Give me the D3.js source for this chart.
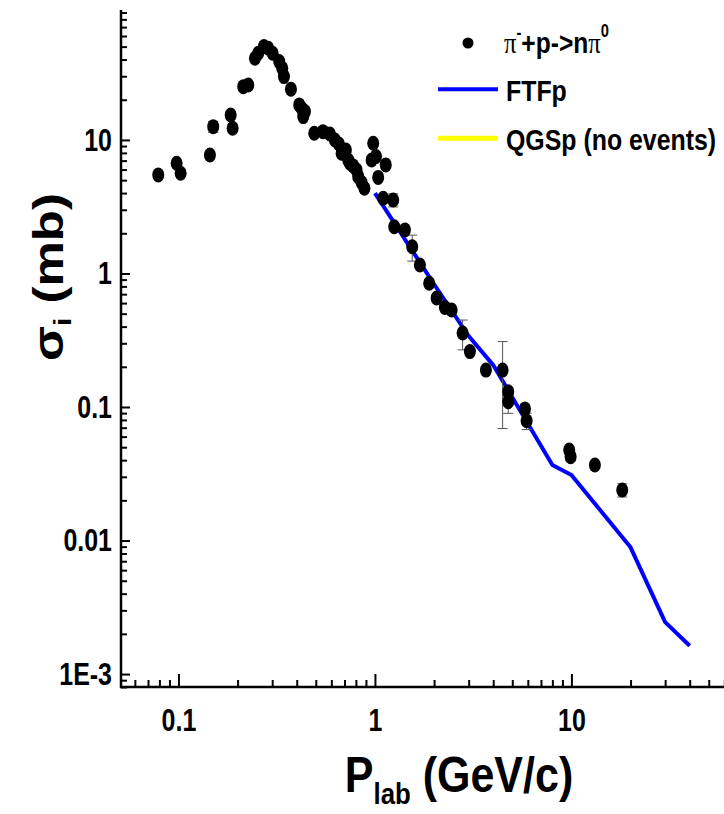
<!DOCTYPE html>
<html><head><meta charset="utf-8">
<script src="https://cdn.jsdelivr.net/npm/d3@7"></script>
<style>body{margin:0;background:#fff}svg{display:block}</style>
</head><body>
<svg id="c" width="724" height="814"></svg>
<script>
// ---- data ----
const pLab = [0.0789,0.0979,0.1026,0.1446,0.1503,0.1844,0.1887,0.2137,0.2266,0.2451,
  0.2547,0.2723,0.2864,0.3016,0.3258,0.3375,0.3443,0.3737,0.4119,0.4236,
  0.4404,0.4317,0.4911,0.5437,0.5902,0.6258,0.6558,0.6768,0.7116,0.7311,
  0.7459,0.7752,0.8069,0.8222,0.8557,0.8843,0.98,0.9621,1.012,1.039,
  1.135,1.102,1.239,1.254,1.421,1.548,1.694,1.889,2.061,2.271,
  2.457,2.794,3.044,3.672,4.466,4.769,4.769,5.8,5.916,9.745,
  9.908,13.17,18.14];
const sigma = [5.47,6.69,5.63,7.72,12.58,15.39,12.24,25.07,25.82,40.9,
  44.6,50.0,48.6,44.6,38.6,34.4,29.8,24.0,18.29,17.28,
  16.3,14.95,11.22,11.54,11.09,10.0,9.33,7.95,8.41,7.08,
  6.69,6.39,5.96,5.31,4.80,4.35,9.45,7.08,7.5,5.24,
  6.5,3.66,3.55,2.24,2.12,1.587,1.158,0.845,0.655,0.556,
  0.533,0.358,0.26,0.189,0.189,0.130,0.1096,0.0968,0.0788,0.0476,
  0.0424,0.0368,0.0239];
const sigmaErr = [0.3,0.35,0.3,0.5,1.2,1.0,0.8,1.2,1.2,2,
  2,2,2,2,2,1.5,1.5,1,0.8,0.8,
  0.8,0.7,0.5,0.5,0.5,0.5,0.5,0.4,0.4,0.4,
  0.3,0.3,0.3,0.3,0.25,0.2,0.5,0.4,0.4,0.3,
  0.3,0.2,0.4,0.12,0.12,0.35,0.06,0.05,0.04,0.03,
  0.03,0.09,0.015,0.01,0.12,0.01,0.02,0.005,0.011,0.003,
  0.003,0.002,0.0027];
const ftfpP = [1,2,3,4,8,10,20,30,40];
const ftfpSigma = [4.0,0.83,0.34,0.206,0.0368,0.031,0.0089,0.00245,0.00163];
const xMajorTicks = [0.1,1,10];
const xTickLabels = ["0.1","1","10"];
const yMajorTicks = [10,1,0.1,0.01,0.001];
const yTickLabels = ["10","1","0.1","0.01","1E-3"];
const legendNames = ["FTFp","QGSp (no events)"];
const legendColors = ["#0000ff","#ffff00"];

// ---- layout ----
const svg = d3.select("#c");
const FONT = "'Liberation Sans', Arial, sans-serif";
const SQ = 0.78;
const x = d3.scaleLog().domain([0.051, 61]).range([121, 725.7]);
const y = d3.scaleLog().domain([8e-4, 94]).range([687, 10]);

function minors(scale){
  const [a,b] = scale.domain(); const out=[];
  for(let n=-4;n<=2;n++) for(let k=2;k<=9;k++){const v=k*Math.pow(10,n); if(v>=a&&v<=b) out.push(v);}
  return out;
}

// x axis
const x0 = y.range()[0];
const gxm = svg.append("g").attr("transform",`translate(0,${x0})`)
  .call(d3.axisBottom(x).tickValues(minors(x)).tickSize(-7).tickSizeOuter(0).tickFormat(""));
const gxM = svg.append("g").attr("transform",`translate(0,${x0})`)
  .call(d3.axisBottom(x).tickValues(xMajorTicks).tickSize(-13).tickSizeOuter(0).tickPadding(21)
    .tickFormat((d,i)=>xTickLabels[i]));
// y axis
const y0 = x.range()[0];
const gym = svg.append("g").attr("transform",`translate(${y0},0)`)
  .call(d3.axisLeft(y).tickValues(minors(y)).tickSize(-6).tickSizeOuter(0).tickFormat(""));
const gyM = svg.append("g").attr("transform",`translate(${y0},0)`)
  .call(d3.axisLeft(y).tickValues(yMajorTicks).tickSize(-9).tickSizeOuter(0).tickPadding(9)
    .tickFormat((d,i)=>yTickLabels[i]));
[gxm,gxM,gym,gyM].forEach(g=>{g.select(".domain").remove(); g.selectAll(".tick line").attr("stroke","#000").attr("stroke-width",2);});
[gxM,gyM].forEach(g=>g.selectAll(".tick text").attr("font-family",FONT).attr("font-weight","bold").attr("font-size",32).attr("fill","#000"));
gxM.selectAll(".tick text").attr("transform",`scale(${SQ},1)`);
gyM.selectAll(".tick text").attr("x",0).attr("transform",`translate(-9,0) scale(${SQ},1)`);

svg.append("line").attr("x1",y0).attr("x2",y0).attr("y1",y.range()[1]).attr("y2",x0+1).attr("stroke","#000").attr("stroke-width",2.5);
svg.append("line").attr("x1",y0-1).attr("x2",724).attr("y1",x0).attr("y2",x0).attr("stroke","#000").attr("stroke-width",2.5);

// axis titles
const yt = svg.append("text").attr("font-family",FONT).attr("font-weight","bold").attr("font-size",51)
  .attr("text-anchor","middle").attr("transform",`translate(63,277) scale(0.82,1) rotate(-90)`);
yt.append("tspan").text("σ");
yt.append("tspan").attr("font-size",30).attr("dy",10).text("i");
yt.append("tspan").attr("dy",-10).text(" (mb)");

const xt = svg.append("text").attr("font-family",FONT).attr("font-weight","bold").attr("font-size",50)
  .attr("text-anchor","middle").attr("transform",`translate(459,792) scale(0.86,1)`);
xt.append("tspan").text("P");
xt.append("tspan").attr("font-size",30).attr("dy",12).text("lab");
xt.append("tspan").attr("dy",-12).text(" (GeV/c)");

// FTFp line
svg.append("path").datum(ftfpP.map((p,i)=>[p,ftfpSigma[i]]))
  .attr("fill","none").attr("stroke","#0000ff").attr("stroke-width",4).attr("stroke-linejoin","round")
  .attr("d", d3.line().x(d=>x(d[0])).y(d=>y(d[1])));

// data points with error bars
const pts = pLab.map((p,i)=>({p, s:sigma[i], e:sigmaErr[i]}));
const eg = svg.append("g").attr("stroke","#555").attr("stroke-width",1);
pts.forEach(d=>{
  const lo = y(Math.max(d.s-d.e, 1e-4)), hi = y(d.s+d.e), cx = x(d.p);
  eg.append("line").attr("x1",cx).attr("x2",cx).attr("y1",lo).attr("y2",hi);
  eg.append("line").attr("x1",cx-5).attr("x2",cx+5).attr("y1",lo).attr("y2",lo);
  eg.append("line").attr("x1",cx-5).attr("x2",cx+5).attr("y1",hi).attr("y2",hi);
});
svg.append("g").selectAll("ellipse").data(pts).join("ellipse")
  .attr("cx",d=>x(d.p)).attr("cy",d=>y(d.s)).attr("rx",6).attr("ry",7.5).attr("fill","#000");

// legend
svg.append("circle").attr("cx",468).attr("cy",43).attr("r",5.5).attr("fill","#000");
const l1 = svg.append("text").attr("font-family",FONT).attr("font-weight","bold").attr("font-size",30)
  .attr("transform",`translate(504,53) scale(0.82,1)`);
l1.append("tspan").attr("font-family","'Liberation Serif', serif").attr("font-weight","normal").text("π");
l1.append("tspan").attr("font-size",18).attr("dy",-14).text("-");
l1.append("tspan").attr("dy",14).text("+p->n");
l1.append("tspan").attr("font-family","'Liberation Serif', serif").attr("font-weight","normal").text("π");
l1.append("tspan").attr("font-size",18).attr("dy",-16).text("0");
legendNames.forEach((n,i)=>{
  const ly = 89.3 + i*49;
  svg.append("line").attr("x1",438).attr("x2",498).attr("y1",ly).attr("y2",ly)
    .attr("stroke",legendColors[i]).attr("stroke-width",i===0?4:5);
  svg.append("text").attr("font-family",FONT).attr("font-weight","bold").attr("font-size",30)
    .attr("transform",`translate(506,${ly+11.5}) scale(0.83,1)`).text(n);
});
</script>
</body></html>
